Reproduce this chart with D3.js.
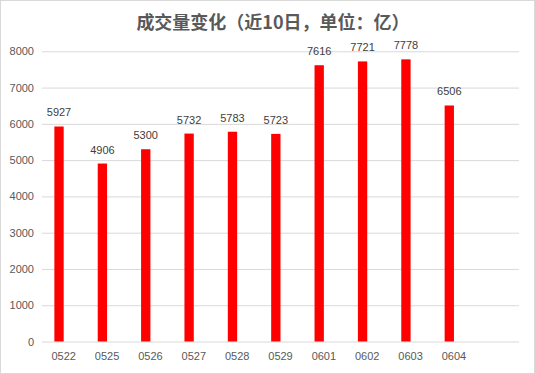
<!DOCTYPE html>
<html>
<head>
<meta charset="utf-8">
<script src="https://cdn.jsdelivr.net/npm/d3@7"></script>
<style>
  html, body { margin: 0; padding: 0; background: #fff; }
  svg { display: block; }
</style>
</head>
<body>
<div id="chart"></div>
<script>
// data
var dates = ["0522", "0525", "0526", "0527", "0528", "0529", "0601", "0602", "0603", "0604"];
var volumes = [5927, 4906, 5300, 5732, 5783, 5723, 7616, 7721, 7778, 6506];
var yTicks = [0, 1000, 2000, 3000, 4000, 5000, 6000, 7000, 8000];
var title = "成交量变化（近10日，单位：亿）";

var width = 535, height = 374;
// plot area (note: "top" is reserved on window, so use other names)
var plotLeft = 42, plotRight = 519, plotTop = 51.3, plotBottom = 341.5;

var svg = d3.select("#chart")
    .append("svg")
    .attr("width", width)
    .attr("height", height);

// outer frame
svg.append("rect")
    .attr("x", 0.5).attr("y", 0.5)
    .attr("width", width - 1).attr("height", height - 1)
    .attr("fill", "#fff")
    .attr("stroke", "#d9d9d9");

// the category axis has room for one more (empty) slot, like the original
var slot = (plotRight - plotLeft) / (dates.length + 1);
var x = d3.scaleBand()
    .domain(dates)
    .range([plotLeft, plotLeft + slot * dates.length]);

var y = d3.scaleLinear()
    .domain([0, 8000])
    .range([plotBottom, plotTop]);

// grid lines + y labels
svg.append("g")
    .attr("transform", "translate(" + plotLeft + ",0)")
    .call(d3.axisLeft(y)
        .tickValues(yTicks)
        .tickSize(-(plotRight - plotLeft))
        .tickPadding(8)
        .tickFormat(d3.format("d")))
    .call(g => g.select(".domain").remove())
    .call(g => g.selectAll(".tick line").attr("stroke", "#d9d9d9"))
    .call(g => g.selectAll(".tick text")
        .attr("fill", "#595959")
        .style("font-family", "'Liberation Sans', Arial, sans-serif")
        .style("font-size", "11px"));

// x labels
svg.append("g")
    .attr("transform", "translate(0," + plotBottom + ")")
    .call(d3.axisBottom(x).tickSize(0).tickPadding(11))
    .call(g => g.select(".domain").remove())
    .call(g => g.selectAll(".tick text")
        .attr("fill", "#595959")
        .style("font-family", "'Liberation Sans', Arial, sans-serif")
        .style("font-size", "11px"));

// bars sit left of the band centre (second series is empty)
var barW = x.bandwidth() * 0.215;

svg.selectAll("rect.bar")
    .data(volumes)
    .enter()
    .append("rect")
    .attr("class", "bar")
    .attr("x", (d, i) => x(dates[i]) + x.bandwidth() / 2 - barW)
    .attr("y", d => y(d))
    .attr("width", barW)
    .attr("height", d => y(0) - y(d))
    .attr("fill", "#ff0000");

// value labels
svg.selectAll("text.value")
    .data(volumes)
    .enter()
    .append("text")
    .attr("class", "value")
    .attr("x", (d, i) => x(dates[i]) + x.bandwidth() / 2 - barW / 2)
    .attr("y", d => y(d) - 10)
    .attr("text-anchor", "middle")
    .attr("fill", "#404040")
    .style("font-family", "'Liberation Sans', Arial, sans-serif")
    .style("font-size", "11px")
    .text(d => d);

// title
svg.append("text")
    .attr("x", 273)
    .attr("y", 29)
    .attr("text-anchor", "middle")
    .attr("fill", "#595959")
    .style("font-family", "'Noto Sans CJK SC', sans-serif")
    .style("font-weight", "bold")
    .style("font-size", "18px")
    .text(title);
</script>
</body>
</html>
